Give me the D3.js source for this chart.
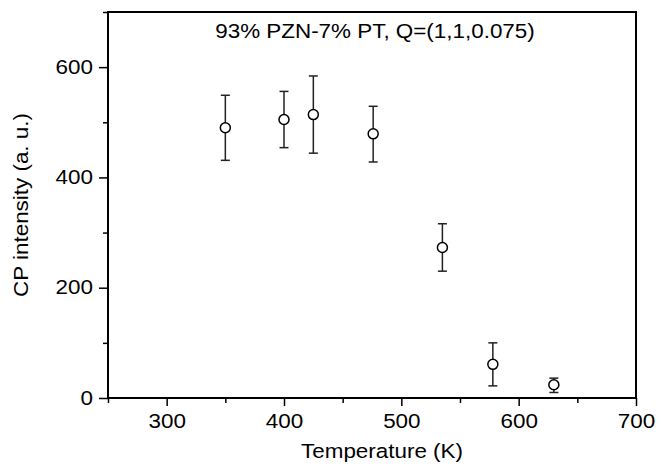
<!DOCTYPE html>
<html>
<head>
<meta charset="utf-8">
<script src="https://cdn.jsdelivr.net/npm/d3@7/dist/d3.min.js"></script>
<style>
  body { margin: 0; background: #fff; }
  text { font-family: "Liberation Sans", Arial, sans-serif; fill: #000; }
</style>
</head>
<body>
<div id="chart"></div>
<script>
// values
const temperature = [350, 400, 425, 476, 535, 578, 630];
const intensity = [490, 505, 514, 479, 273, 61, 24];
const errLow = [431, 454, 444, 428, 230, 22, 10];
const errHigh = [549, 556, 584, 529, 316, 100, 36];
const xTicks = [300, 400, 500, 600, 700];
const yTicks = [0, 200, 400, 600];
const title = '93% PZN-7% PT, Q=(1,1,0.075)';

const W = 663, H = 472;
const margin = { top: 12, right: 27, bottom: 74, left: 108 };
const stretch = 1.15; // the reference's lettering is a little wide
const fs = 19.5;

const svg = d3.select('#chart').append('svg')
  .attr('width', W)
  .attr('height', H);

const x = d3.scaleLinear().domain([250, 700]).range([margin.left, W - margin.right]);
const y = d3.scaleLinear().domain([0, 700]).range([H - margin.bottom, margin.top]);

// minor ticks
const xMinor = d3.range(250, 701, 50).filter(v => !xTicks.includes(v));
const yMinor = d3.range(100, 701, 200);

svg.append('g')
  .attr('transform', `translate(0,${H - margin.bottom})`)
  .call(d3.axisBottom(x).tickValues(xMinor).tickSize(5).tickFormat(''))
  .call(g => g.select('.domain').remove())
  .selectAll('line').attr('stroke-width', 1.5);

svg.append('g')
  .attr('transform', `translate(${margin.left},0)`)
  .call(d3.axisLeft(y).tickValues(yMinor).tickSize(5).tickFormat(''))
  .call(g => g.select('.domain').remove())
  .selectAll('line').attr('stroke-width', 1.5);

const xAxis = svg.append('g')
  .attr('transform', `translate(0,${H - margin.bottom})`)
  .call(d3.axisBottom(x).tickValues(xTicks).tickSize(8).tickPadding(8).tickFormat(d3.format('d')));
xAxis.select('.domain').remove();
xAxis.selectAll('line').attr('stroke-width', 1.5);
xAxis.selectAll('text')
  .attr('font-size', fs)
  .attr('font-family', '"Liberation Sans", Arial, sans-serif')
  .attr('transform', `scale(${stretch},1)`);

const yAxis = svg.append('g')
  .attr('transform', `translate(${margin.left},0)`)
  .call(d3.axisLeft(y).tickValues(yTicks).tickSize(9).tickPadding(6).tickFormat(d3.format('d')));
yAxis.select('.domain').remove();
yAxis.selectAll('line').attr('stroke-width', 1.5);
yAxis.selectAll('text')
  .attr('font-size', fs)
  .attr('font-family', '"Liberation Sans", Arial, sans-serif')
  .attr('transform', `scale(${stretch},1)`)
  .attr('x', -15 / stretch);

// frame
svg.append('rect')
  .attr('x', x(250))
  .attr('y', y(700))
  .attr('width', x(700) - x(250))
  .attr('height', y(0) - y(700))
  .attr('fill', 'none')
  .attr('stroke', '#000')
  .attr('stroke-width', 2);

// error bars
const pts = temperature.map((t, i) => ({ t, v: intensity[i], lo: errLow[i], hi: errHigh[i] }));
const cap = 4.5;
const bars = svg.append('g').attr('stroke', '#222').attr('stroke-width', 1.5);
pts.forEach(d => {
  bars.append('line')
    .attr('x1', x(d.t)).attr('x2', x(d.t))
    .attr('y1', y(d.lo)).attr('y2', y(d.hi));
  [d.lo, d.hi].forEach(e => {
    bars.append('line')
      .attr('x1', x(d.t) - cap).attr('x2', x(d.t) + cap)
      .attr('y1', y(e)).attr('y2', y(e));
  });
});

svg.append('g').selectAll('circle')
  .data(pts)
  .join('circle')
  .attr('cx', d => x(d.t))
  .attr('cy', d => y(d.v))
  .attr('r', 5)
  .attr('fill', '#fff')
  .attr('stroke', '#000')
  .attr('stroke-width', 1.5);

// labels
svg.append('text')
  .attr('transform', `translate(${(x(250) + x(700)) / 2 + 3},${y(700) + 26}) scale(${stretch},1)`)
  .attr('text-anchor', 'middle')
  .attr('font-size', fs)
  .text(title);

svg.append('text')
  .attr('transform', `translate(${(x(250) + x(700)) / 2 + 10},${H - 14}) scale(${stretch},1)`)
  .attr('text-anchor', 'middle')
  .attr('font-size', fs)
  .text('Temperature (K)');

svg.append('text')
  .attr('transform', `translate(28,${(y(0) + y(700)) / 2}) rotate(-90) scale(${stretch},1)`)
  .attr('text-anchor', 'middle')
  .attr('font-size', fs)
  .text('CP intensity (a. u.)');
</script>
</body>
</html>
